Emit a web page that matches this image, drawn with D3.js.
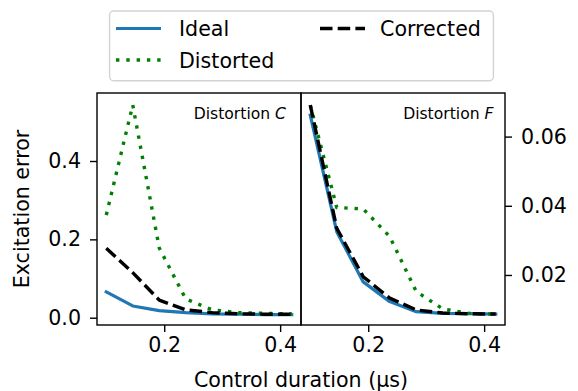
<!DOCTYPE html>
<html>
<head>
<meta charset="utf-8">
<script src="https://cdn.jsdelivr.net/npm/d3@7"></script>
<style>
  html, body { margin: 0; padding: 0; background: #fff; }
  svg { display: block; font-family: "DejaVu Sans", sans-serif; }
</style>
</head>
<body>
<svg id="chart" width="578" height="391"></svg>
<script>
// Control durations (µs)
const durations = [0.1, 0.1457, 0.1914, 0.2371, 0.2829, 0.3286, 0.3743, 0.42];

// Distortion C: excitation error
const idealC     = [0.066, 0.030, 0.018, 0.013, 0.010, 0.009, 0.008, 0.008];
const distortedC = [0.262, 0.543, 0.178, 0.048, 0.020, 0.013, 0.011, 0.010];
const correctedC = [0.177, 0.115, 0.045, 0.020, 0.013, 0.010, 0.009, 0.009];

// Distortion F: excitation error
const idealF     = [0.0662, 0.0325, 0.0180, 0.0123, 0.0094, 0.0089, 0.0088, 0.0087];
const distortedF = [0.0691, 0.0395, 0.0391, 0.0311, 0.0152, 0.0102, 0.0089, 0.0087];
const correctedF = [0.0691, 0.0335, 0.0195, 0.0133, 0.0099, 0.0090, 0.0088, 0.0087];

// Tick labels
const xTicks  = [0.2, 0.4];
const yTicksC = [0.0, 0.2, 0.4];
const yTicksF = [0.02, 0.04, 0.06];

const seriesNames = ["Ideal", "Distorted", "Corrected"];

const styles = {
  Ideal:     { color: "#1f77b4", width: 3.2, dash: null },
  Distorted: { color: "#008000", width: 3.4, dash: "3.4,6.9" },
  Corrected: { color: "#000000", width: 3.4, dash: "12.5,5.2" }
};

const svg = d3.select("#chart");
const plotTop = 93, plotBottom = 325;
const fontSize = 20.6;

const panels = [
  { x0: 97,  x1: 301, yDomain: [-0.0186, 0.5736], yTicks: yTicksC, yFmt: d3.format(".1f"), side: "left",
    title: "C", titleX: 286,
    series: { Ideal: idealC, Distorted: distortedC, Corrected: correctedC } },
  { x0: 301, x1: 505, yDomain: [0.00554, 0.0726], yTicks: yTicksF, yFmt: d3.format(".2f"), side: "right",
    title: "F", titleX: 493.5,
    series: { Ideal: idealF, Distorted: distortedF, Corrected: correctedF } }
];

panels.forEach(p => {
  const x = d3.scaleLinear().domain([0.084, 0.436]).range([p.x0, p.x1]);
  const y = d3.scaleLinear().domain(p.yDomain).range([plotBottom, plotTop]);
  const g = svg.append("g");

  const line = vals => d3.line()
    .x((d, i) => x(durations[i]))
    .y(d => y(d))(vals);

  const clipId = "clip-" + p.side;
  g.append("clipPath").attr("id", clipId)
    .append("rect").attr("x", p.x0).attr("y", plotTop).attr("width", p.x1 - p.x0).attr("height", plotBottom - plotTop);

  const plot = g.append("g").attr("clip-path", `url(#${clipId})`);
  seriesNames.forEach(name => {
    const s = styles[name];
    plot.append("path")
      .attr("d", line(p.series[name]))
      .attr("fill", "none")
      .attr("stroke", s.color)
      .attr("stroke-width", s.width)
      .attr("stroke-linejoin", "round")
      .attr("stroke-linecap", s.dash ? "butt" : "square")
      .attr("stroke-dasharray", s.dash);
  });

  // x axis
  const xAxis = d3.axisBottom(x).tickValues(xTicks).tickFormat(d3.format(".1f"))
    .tickSize(7).tickPadding(5);
  const gx = g.append("g").attr("transform", `translate(0,${plotBottom})`).call(xAxis);
  gx.select(".domain").remove();
  gx.selectAll(".tick line").attr("stroke", "#000").attr("stroke-width", 1.4);
  gx.selectAll(".tick text").attr("font-size", fontSize).attr("font-family", "DejaVu Sans").attr("fill", "#000");

  // y axis
  const yAxis = (p.side === "left" ? d3.axisLeft(y) : d3.axisRight(y))
    .tickValues(p.yTicks).tickFormat(p.yFmt).tickSize(7).tickPadding(9);
  const gy = g.append("g")
    .attr("transform", `translate(${p.side === "left" ? p.x0 : p.x1},0)`).call(yAxis);
  gy.select(".domain").remove();
  gy.selectAll(".tick line").attr("stroke", "#000").attr("stroke-width", 1.4);
  gy.selectAll(".tick text").attr("font-size", fontSize).attr("font-family", "DejaVu Sans").attr("fill", "#000");

  // frame
  g.append("rect")
    .attr("x", p.x0).attr("y", plotTop).attr("width", p.x1 - p.x0).attr("height", plotBottom - plotTop)
    .attr("fill", "none").attr("stroke", "#000").attr("stroke-width", 1.4);

  // panel title
  const t = g.append("text")
    .attr("x", p.titleX).attr("y", 119.3)
    .attr("text-anchor", "end")
    .attr("font-size", 15.6)
    .attr("fill", "#000");
  t.append("tspan").text("Distortion ");
  t.append("tspan").attr("font-style", "italic").text(p.title);
});

// axis labels
svg.append("text")
  .attr("x", 301).attr("y", 387)
  .attr("text-anchor", "middle")
  .attr("font-size", fontSize)
  .text("Control duration (μs)");

svg.append("text")
  .attr("transform", "translate(29,209) rotate(-90)")
  .attr("text-anchor", "middle")
  .attr("font-size", fontSize)
  .text("Excitation error");

// legend
const legend = svg.append("g");
legend.append("rect")
  .attr("x", 109.6).attr("y", 11).attr("width", 383.8).attr("height", 69.7)
  .attr("rx", 4).attr("ry", 4)
  .attr("fill", "#fff").attr("fill-opacity", 0.8)
  .attr("stroke", "#d3d3d3").attr("stroke-width", 1.4);

const legendItems = [
  { name: "Ideal",     lx: 116, ly: 28.5, tx: 179, ty: 36 },
  { name: "Distorted", lx: 116, ly: 60,   tx: 179, ty: 67.5 },
  { name: "Corrected", lx: 320, ly: 28.5, tx: 380, ty: 36 }
];
legendItems.forEach(it => {
  const s = styles[it.name];
  legend.append("line")
    .attr("x1", it.lx).attr("x2", it.lx + 45)
    .attr("y1", it.ly).attr("y2", it.ly)
    .attr("stroke", s.color).attr("stroke-width", s.width)
    .attr("stroke-dasharray", s.dash);
  legend.append("text")
    .attr("x", it.tx).attr("y", it.ty)
    .attr("font-size", fontSize)
    .text(it.name);
});
</script>
</body>
</html>
